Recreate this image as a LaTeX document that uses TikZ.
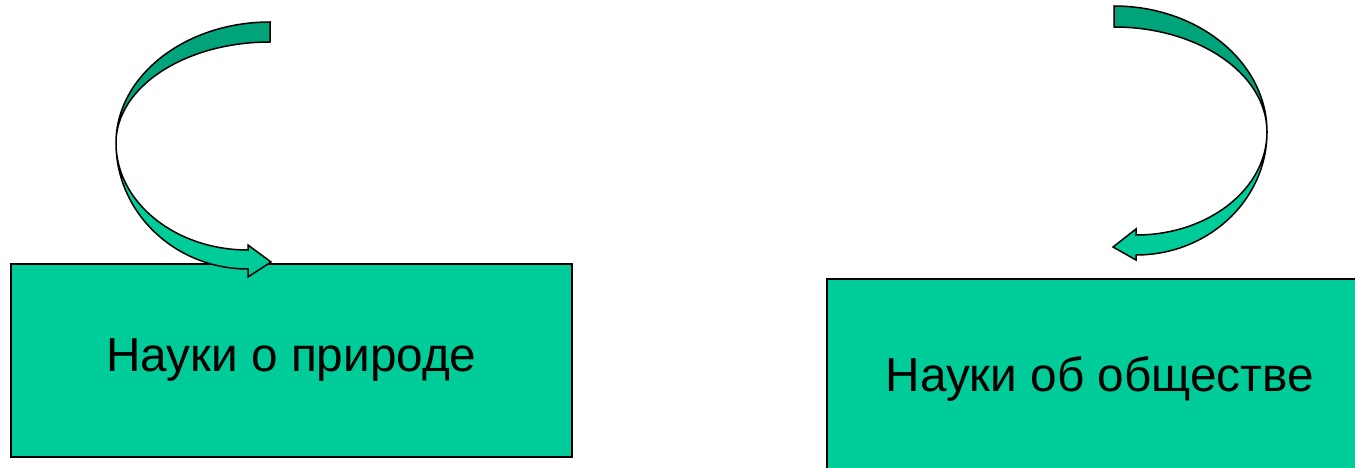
\documentclass[tikz,border=0pt]{standalone}
\usepackage{fontspec}
\setmainfont{Liberation Sans}
\definecolor{boxgreen}{HTML}{00CC99}
\definecolor{darkband}{HTML}{00A37A}
\tikzset{
  scibox/.style={draw=black, line width=1.6pt, fill=boxgreen, inner sep=0pt, anchor=north west},
  boxtext/.style={font=\fontsize{47.7}{56}\selectfont},
  backband/.style={draw=black, line width=1.5pt, fill=darkband, line join=miter},
  frontband/.style={draw=black, line width=1.5pt, fill=boxgreen, line join=miter}
}
\begin{document}
\begin{tikzpicture}[x=1pt,y=-1pt]
\useasboundingbox (0,0) rectangle (1355,468);
% boxes
\node[scibox, minimum width=561pt, minimum height=193pt] (nature) at (10,263) {};
\node[boxtext] (naturetext) at (nature.center) {Науки о природе};
\node[scibox, minimum width=546pt, minimum height=200pt] (society) at (826,278) {};
\node[boxtext] (societytext) at (society.center) {Науки об обществе};
% left curved arrow
\draw[backband] (270,22) arc[start angle=90, end angle=180, x radius=154pt, y radius=121pt]
  arc[start angle=180, end angle=90, x radius=154pt, y radius=101pt] -- cycle;
\draw[frontband] (116,143) arc[start angle=180, end angle=270, x radius=132pt, y radius=126pt]
  -- (248,277) -- (271,262) -- (248,245) -- (248,250)
  arc[start angle=270, end angle=180, x radius=132pt, y radius=107pt] -- cycle;
% right curved arrow
\draw[backband] (1114,6) arc[start angle=90, end angle=0, x radius=153pt, y radius=126pt]
  arc[start angle=0, end angle=90, x radius=153pt, y radius=105pt] -- cycle;
\draw[frontband] (1267,132) arc[start angle=0, end angle=-90, x radius=131pt, y radius=123pt]
  -- (1136,260) -- (1113,247) -- (1136,229) -- (1136,235)
  arc[start angle=-90, end angle=0, x radius=131pt, y radius=103pt] -- cycle;
\end{tikzpicture}
\end{document}
